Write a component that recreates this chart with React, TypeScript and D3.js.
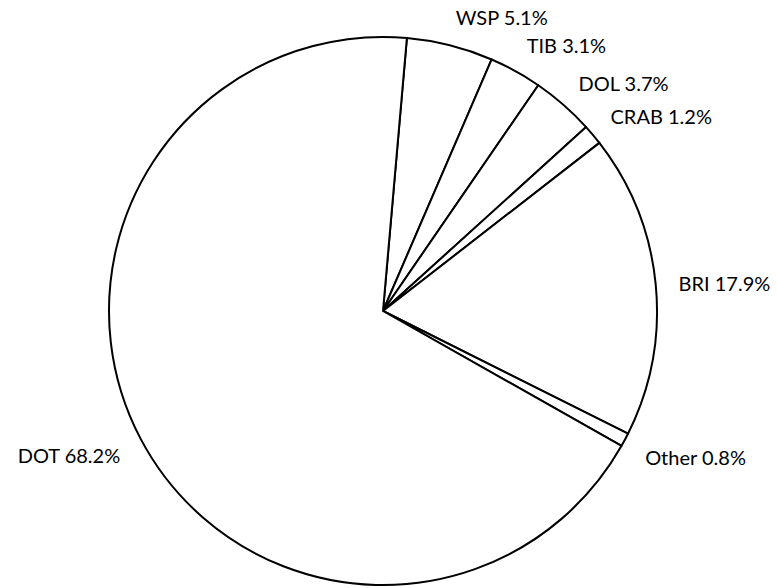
import React, { useRef, useEffect } from 'react';
import * as d3 from 'd3';

const categories = ['WSP', 'TIB', 'DOL', 'CRAB', 'BRI', 'Other', 'DOT'];
const shares = [5.1, 3.1, 3.7, 1.2, 17.9, 0.8, 68.2];

const W = 777;
const H = 588;

const App = () => {
  const svgRef = useRef<SVGSVGElement>(null);

  useEffect(() => {
    const cx = 383;
    const cy = 311;
    const radius = 274;
    const labelR = radius + 23;
    const start = (5 * Math.PI) / 180;

    const rows = categories.map((c, i) => ({ name: c, value: shares[i] }));

    const pie = d3.pie<{ name: string; value: number }>()
      .sort(null)
      .value((d) => d.value)
      .startAngle(start)
      .endAngle(start + 2 * Math.PI);

    const arc = d3.arc<d3.PieArcDatum<{ name: string; value: number }>>()
      .innerRadius(0)
      .outerRadius(radius);

    const svg = d3.select(svgRef.current);
    svg.selectAll('*').remove();

    const g = svg.append('g').attr('transform', `translate(${cx},${cy})`);
    const arcs = pie(rows);

    g.selectAll('path')
      .data(arcs)
      .enter()
      .append('path')
      .attr('d', arc)
      .attr('fill', '#ffffff')
      .attr('stroke', '#000000')
      .attr('stroke-width', 2)
      .attr('stroke-linejoin', 'round');

    // labels sit outside the rim, pushed away from the pie like Excel's "outside end"
    g.selectAll('text')
      .data(arcs)
      .enter()
      .append('text')
      .attr('x', (d) => {
        const a = (d.startAngle + d.endAngle) / 2;
        return labelR * Math.sin(a);
      })
      .attr('y', (d) => {
        const a = (d.startAngle + d.endAngle) / 2;
        return -labelR * Math.cos(a) - 8.75 * Math.cos(a) + 10;
      })
      .attr('text-anchor', (d) => (Math.sin((d.startAngle + d.endAngle) / 2) >= 0 ? 'start' : 'end'))
      .attr('font-family', 'Lato, "Open Sans", sans-serif')
      .attr('font-size', 20)
      .attr('fill', '#000000')
      .text((d) => `${d.data.name} ${d.data.value.toFixed(1)}%`);
  }, []);

  return (
    <svg
      ref={svgRef}
      width={W}
      height={H}
      style={{ position: 'absolute', left: 0, top: 0, background: '#ffffff' }}
    />
  );
};

export default App;
